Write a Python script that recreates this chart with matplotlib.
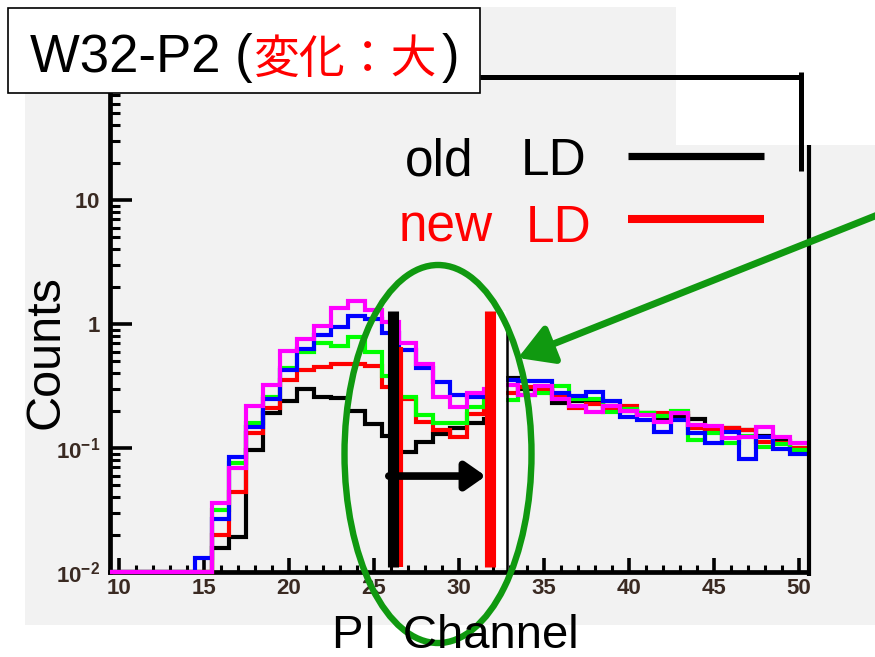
import numpy as np
import matplotlib
matplotlib.use('Agg')
import matplotlib.pyplot as plt
from matplotlib.patches import Rectangle, Ellipse
from matplotlib.ticker import FixedLocator, FixedFormatter

plt.rcParams['font.family'] = ['Liberation Sans', 'Noto Sans CJK JP', 'DejaVu Sans']
plt.rcParams['mathtext.fontset'] = 'custom'
plt.rcParams['mathtext.rm'] = 'Liberation Sans:bold'
plt.rcParams['mathtext.bf'] = 'Liberation Sans:bold'
plt.rcParams['mathtext.default'] = 'bf'

# PI channel bins (centred on integers), counts; 0 = empty bin
channels = np.arange(10, 51)
hist_black = [0, 0, 0, 0, 0, 0, 0.0157, 0.019, 0.096, 0.193, 0.241, 0.301, 0.26, 0.251,
              0.197, 0.155, 0.125, 0.092, 0.112, 0.129, 0.144, 0.158, 0.17, 0.365, 0.30,
              0.29, 0.232, 0.24, 0.24, 0.22, 0.20, 0.19, 0.175, 0.18, 0.17, 0.14, 0.145,
              0.14, 0.125, 0.114, 0.10]
hist_red = [0, 0, 0, 0, 0, 0, 0.0198, 0.0443, 0.131, 0.209, 0.354, 0.427, 0.448, 0.48,
            0.48, 0.458, 0.31, 0.25, 0.163, 0.14, 0.123, 0.187, 0.22, 0.276, 0.31, 0.30,
            0.27, 0.21, 0.228, 0.21, 0.22, 0.19, 0.193, 0.19, 0.145, 0.14, 0.144, 0.14,
            0.111, 0.11, 0.10]
hist_green = [0, 0, 0, 0, 0, 0, 0.0315, 0.075, 0.158, 0.26, 0.44, 0.60, 0.70, 0.66,
              0.78, 0.60, 0.38, 0.26, 0.185, 0.158, 0.158, 0.215, 0.24, 0.244, 0.27,
              0.276, 0.316, 0.25, 0.25, 0.195, 0.207, 0.19, 0.181, 0.20, 0.117, 0.131,
              0.109, 0.125, 0.102, 0.108, 0.096]
hist_blue = [0, 0, 0, 0, 0, 0.013, 0.027, 0.085, 0.149, 0.25, 0.426, 0.625, 0.816, 0.953,
             1.16, 1.09, 0.85, 0.62, 0.44, 0.343, 0.267, 0.256, 0.28, 0.353, 0.35, 0.349,
             0.276, 0.265, 0.283, 0.24, 0.177, 0.167, 0.135, 0.168, 0.133, 0.109, 0.135,
             0.081, 0.122, 0.099, 0.089]
hist_magenta = [0, 0, 0, 0, 0, 0, 0.036, 0.069, 0.218, 0.322, 0.61, 0.75, 0.96, 1.34,
                1.54, 1.30, 1.04, 0.70, 0.48, 0.26, 0.215, 0.276, 0.30, 0.322, 0.27,
                0.316, 0.247, 0.217, 0.195, 0.22, 0.20, 0.184, 0.162, 0.19, 0.153, 0.15,
                0.12, 0.123, 0.149, 0.123, 0.11]

old_ld = 26.15
new_ld = 31.85
y_min, y_max = 0.01, 100

ytick_vals = [0.01, 0.1, 1, 10, 100]
ytick_labels = [r'$10^{-2}$', r'$10^{-1}$', r'$1$', r'$10$', '']
xtick_vals = list(range(10, 51, 5))

green = '#109910'
label_col = '#3a2a22'

fig = plt.figure(figsize=(8.75, 6.57), dpi=100)

# slide background (pixel coordinates)
bg = fig.add_axes([0, 0, 1, 1], zorder=0)
bg.set_xlim(0, 875)
bg.set_ylim(657, 0)
bg.axis('off')
bg.add_patch(Rectangle((25, 7), 850, 618, fc='#f2f2f2', ec='none'))
bg.add_patch(Rectangle((676, 0), 199, 145, fc='white', ec='none'))

# histogram frame
ax = fig.add_axes([110 / 875, (657 - 572) / 657, 697 / 875, 496 / 657], zorder=1)
ax.set_facecolor('none')
ax.set_yscale('log')
ax.set_xlim(9.5, 50.5)
ax.set_ylim(y_min, y_max)

edges = np.append(channels - 0.5, channels[-1] + 0.5)
for vals, col in [(hist_black, 'black'), (hist_red, '#ff0000'), (hist_green, '#00ff00'),
                  (hist_blue, '#0000ff'), (hist_magenta, '#ff00ff')]:
    ax.stairs(np.clip(vals, y_min, None), edges, baseline=None, color=col, lw=3,
              zorder=3, clip_on=False)

ax.spines['top'].set_visible(False)
ax.spines['right'].set_visible(False)
ax.spines['left'].set_linewidth(3.4)
ax.spines['bottom'].set_linewidth(3.4)

ax.yaxis.set_major_locator(FixedLocator(ytick_vals))
ax.yaxis.set_major_formatter(FixedFormatter(ytick_labels))
ax.yaxis.set_minor_locator(FixedLocator([m * 10.0 ** e for e in range(-2, 2) for m in range(2, 10)]))
ax.xaxis.set_major_locator(FixedLocator(xtick_vals))
ax.xaxis.set_minor_locator(FixedLocator(list(range(10, 51))))
ax.tick_params(which='major', direction='in', length=14, width=2.6, top=False, right=False)
ax.tick_params(which='minor', direction='in', length=7, width=2.2, top=False, right=False)
ax.tick_params(axis='y', which='major', length=16, pad=7, labelsize=16, labelcolor=label_col)
ax.tick_params(axis='x', which='major', length=10, pad=4, labelsize=16, labelcolor=label_col)
ax.tick_params(axis='x', which='minor', length=5)
for lab in ax.get_xticklabels():
    lab.set_fontweight('bold')

# LD thresholds
ax.vlines(26.6, 0.011, 0.65, color='#ff0000', lw=3, zorder=4)
ax.vlines(old_ld, 0.011, 1.27, color='black', lw=8, zorder=5)
ax.fill_betweenx([0.011, 1.27], 32.18, 32.76, color='white', zorder=4)
ax.vlines(32.85, y_min, 1.02, color='black', lw=1.8, zorder=5)
ax.vlines(new_ld, 0.011, 1.27, color='#ff0000', lw=8, zorder=5)
ax.annotate('', xy=(31.6, 0.0594), xytext=(25.9, 0.0594), zorder=6,
            arrowprops=dict(arrowstyle='-|>,head_length=0.6,head_width=0.42', color='black',
                            lw=5.5, mutation_scale=20, shrinkA=0, shrinkB=0))

# annotations (pixel coordinates)
ov = fig.add_axes([0, 0, 1, 1], zorder=3)
ov.set_xlim(0, 875)
ov.set_ylim(657, 0)
ov.axis('off')
ov.patch.set_alpha(0)

ov.plot([480, 803], [77, 77], color='black', lw=3.6, solid_capstyle='butt')
ov.plot([800.5, 800.5], [72, 171], color='black', lw=3.6, solid_capstyle='butt')
ov.plot([808.5, 808.5], [145, 576], color='black', lw=3.0, solid_capstyle='butt')

ov.add_patch(Ellipse((438, 454), 187, 378, fill=False, ec=green, lw=4.6))
ov.annotate('', xy=(518, 358), xytext=(885, 212),
            arrowprops=dict(arrowstyle='-|>,head_length=0.65,head_width=0.38', color=green,
                            lw=5, mutation_scale=32, shrinkA=0, shrinkB=0))

ov.text(405, 175, 'old', fontsize=37, va='baseline', ha='left', color='black')
ov.text(521, 175, 'LD', fontsize=37, va='baseline', ha='left', color='black')
ov.text(399, 242, 'new', fontsize=37, va='baseline', ha='left', color='#ff0000')
ov.text(526, 242, 'LD', fontsize=37, va='baseline', ha='left', color='#ff0000')
ov.plot([628, 764], [155.5, 155.5], color='black', lw=5.2, solid_capstyle='butt')
ov.plot([628, 764], [219, 219], color='#ff0000', lw=5.8, solid_capstyle='butt')

ov.text(46, 352, 'Counts', rotation=90, fontsize=35, ha='center', va='center')
ov.text(455, 648, 'PI  Channel', fontsize=34, ha='center', va='baseline')

ov.add_patch(Rectangle((8, 8), 472, 85, fc='white', ec='black', lw=1.2))
ov.text(30, 72, 'W32-P2 (', fontsize=38, va='baseline', ha='left', color='black')
ov.text(254, 73, '変化：大', fontsize=33, va='baseline', ha='left', color='#ff0000')
ov.text(442, 72, ')', fontsize=38, va='baseline', ha='left', color='black')

fig.savefig('out.png', dpi=100)
